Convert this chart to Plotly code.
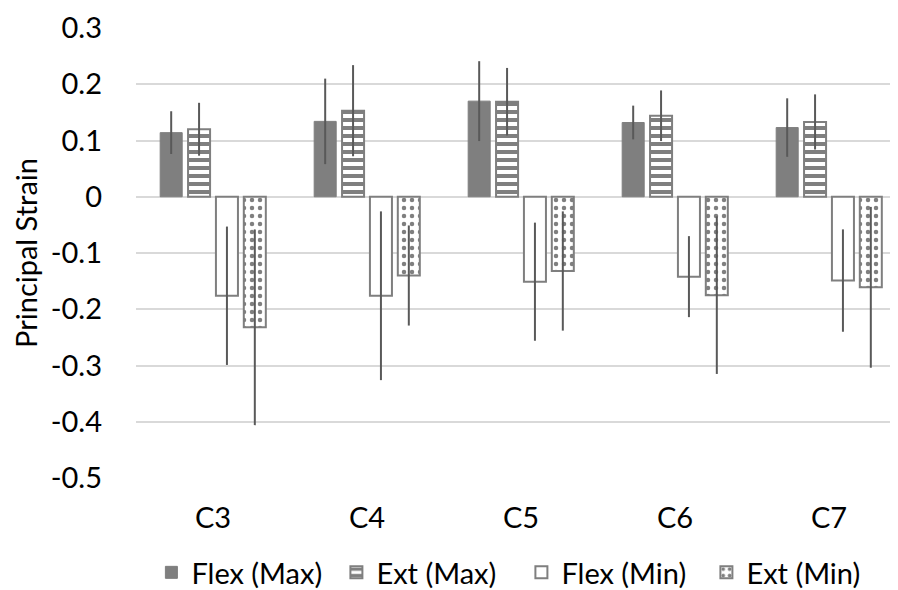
import plotly.graph_objects as go

categories = ["C3", "C4", "C5", "C6", "C7"]
flex_max = [0.114, 0.134, 0.170, 0.132, 0.123]
flex_max_err = [0.038, 0.076, 0.071, 0.030, 0.052]
ext_max = [0.120, 0.153, 0.169, 0.144, 0.133]
ext_max_err = [0.047, 0.081, 0.060, 0.045, 0.049]
flex_min = [-0.176, -0.176, -0.151, -0.142, -0.149]
flex_min_err = [0.123, 0.150, 0.105, 0.072, 0.091]
ext_min = [-0.232, -0.140, -0.132, -0.175, -0.161]
ext_min_err = [0.174, 0.089, 0.106, 0.140, 0.143]
y_ticks = [0.3, 0.2, 0.1, 0, -0.1, -0.2, -0.3, -0.4, -0.5]

GRAY = "#7f7f7f"
ERR = "#595959"
FONT = "Lato"
FS = 29

def err(vals):
    return dict(type="data", array=vals, visible=True, color=ERR, thickness=2, width=0)

fig = go.Figure()
fig.add_trace(go.Bar(name="Flex (Max)", x=categories, y=flex_max, error_y=err(flex_max_err),
                     marker=dict(color=GRAY, line=dict(color=GRAY, width=1))))
fig.add_trace(go.Bar(name="Ext (Max)", x=categories, y=ext_max, error_y=err(ext_max_err),
                     marker=dict(color="white", line=dict(color=GRAY, width=2),
                                 pattern=dict(shape="-", fgcolor=GRAY, bgcolor="white",
                                              size=8, solidity=0.5, fillmode="replace"))))
fig.add_trace(go.Bar(name="Flex (Min)", x=categories, y=flex_min, error_y=err(flex_min_err),
                     marker=dict(color="white", line=dict(color=GRAY, width=2))))
fig.add_trace(go.Bar(name="Ext (Min)", x=categories, y=ext_min, error_y=err(ext_min_err),
                     marker=dict(color="white", line=dict(color=GRAY, width=2),
                                 pattern=dict(shape=".", fgcolor=GRAY, bgcolor="white",
                                              size=8, solidity=0.25, fillmode="replace"))))

fig.update_layout(
    width=898, height=590,
    margin=dict(l=128, r=0, t=20, b=113),
    paper_bgcolor="white", plot_bgcolor="white",
    font=dict(family=FONT, size=FS, color="#000000"),
    barmode="group", bargap=0.276, bargroupgap=0.21,
    showlegend=True,
    legend=dict(orientation="h", x=0.02, xanchor="left", y=-0.21, yanchor="middle",
                font=dict(size=FS), itemwidth=30, traceorder="normal",
                entrywidth=140, entrywidthmode="pixels"),
)
fig.update_yaxes(range=[-0.5, 0.3], tickvals=y_ticks, ticktext=[str(v) for v in y_ticks],
                 showgrid=True, gridcolor="#d9d9d9", gridwidth=1.5,
                 zeroline=True, zerolinecolor="#d9d9d9", zerolinewidth=1.5,
                 showline=False, ticks="", ticklabelstandoff=33,
                 title=dict(text="Principal Strain", font=dict(size=FS), standoff=4))
fig.update_xaxes(showgrid=False, showline=False, ticks="", ticklabelstandoff=20,
                 tickfont=dict(size=FS))

fig.write_html("out.html")
